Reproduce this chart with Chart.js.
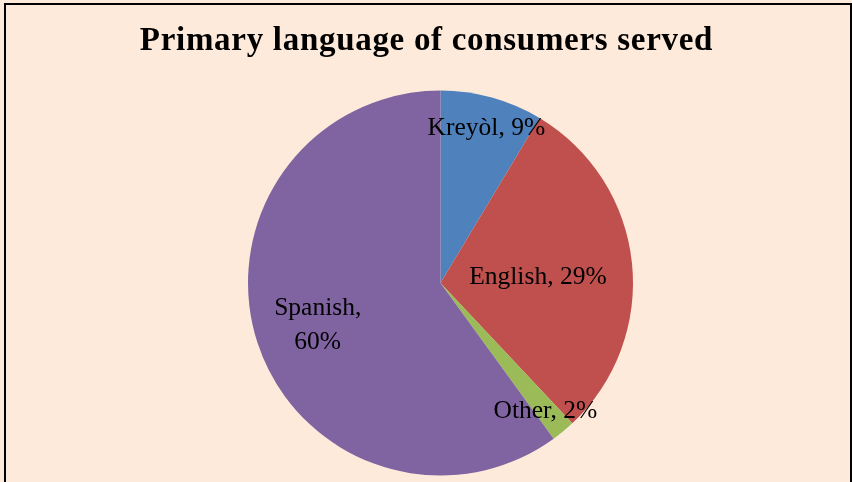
<!DOCTYPE html>
<html>
<head>
<meta charset="utf-8">
<script src="https://cdn.jsdelivr.net/npm/chart.js@4"></script>
<style>
  html, body { margin: 0; padding: 0; background: #FDEADA; width: 852px; height: 482px; overflow: hidden; }
  #wrap { position: relative; width: 852px; height: 482px; }
  canvas { position: absolute; left: 0; top: 0; }
  #frame { position: absolute; left: 4px; top: 3px; width: 844px; height: 520px; border: 2px solid #000; pointer-events: none; }
</style>
</head>
<body>
<div id="wrap">
  <canvas id="c" width="852" height="482"></canvas>
  <div id="frame"></div>
</div>
<script>
const chartTitle = "Primary language of consumers served";
const categories = ["Kreyòl", "English", "Other", "Spanish"];
const shares = [8.6, 29.4, 2.0, 60.0];
const pctLabels = ["9%", "29%", "2%", "60%"];
const sliceColors = ["#4F81BD", "#C0504D", "#9BBB59", "#8064A2"];

// label placement: [radius fraction, angle shift in degrees, multi-line]
const labelPlace = [
  [0.84, 1, false],
  [0.507, 2.6, false],
  [0.86, 0.3, false],
  [0.675, -1.1, true]
];

const titlePlugin = {
  id: 'customTitle',
  afterDraw(chart) {
    const ctx = chart.ctx;
    ctx.save();
    ctx.font = 'bold 33px "Liberation Serif", "DejaVu Serif", serif';
    ctx.letterSpacing = '0.7px';
    ctx.fillStyle = '#000';
    ctx.textAlign = 'center';
    ctx.textBaseline = 'alphabetic';
    ctx.fillText(chartTitle, chart.width / 2 + 0.5, 50);
    ctx.restore();
  }
};

const labelPlugin = {
  id: 'sliceLabels',
  afterDatasetsDraw(chart) {
    const ctx = chart.ctx;
    const meta = chart.getDatasetMeta(0);
    ctx.save();
    ctx.font = '25.5px "Liberation Serif", "DejaVu Serif", serif';
    ctx.fillStyle = '#000';
    ctx.textAlign = 'center';
    ctx.textBaseline = 'middle';
    meta.data.forEach((arc, i) => {
      const p = arc.getProps(['x', 'y', 'startAngle', 'endAngle', 'outerRadius'], true);
      const [f, shift, multi] = labelPlace[i];
      const a = (p.startAngle + p.endAngle) / 2 + shift * Math.PI / 180;
      const r = p.outerRadius * f;
      const x = p.x + Math.cos(a) * r;
      const y = p.y + Math.sin(a) * r;
      if (multi) {
        ctx.fillText(categories[i] + ',', x, y - 17);
        ctx.fillText(pctLabels[i], x, y + 17);
      } else {
        ctx.fillText(categories[i] + ', ' + pctLabels[i], x, y);
      }
    });
    ctx.restore();
  }
};

new Chart(document.getElementById('c'), {
  type: 'pie',
  data: {
    labels: categories,
    datasets: [{
      data: shares,
      backgroundColor: sliceColors,
      borderWidth: 0
    }]
  },
  options: {
    responsive: false,
    animation: false,
    layout: { padding: { left: 29, right: 0, top: 90.5, bottom: 6.5 } },
    plugins: {
      legend: { display: false },
      tooltip: { enabled: false },
      title: { display: false }
    }
  },
  plugins: [labelPlugin, titlePlugin]
});
</script>
</body>
</html>
